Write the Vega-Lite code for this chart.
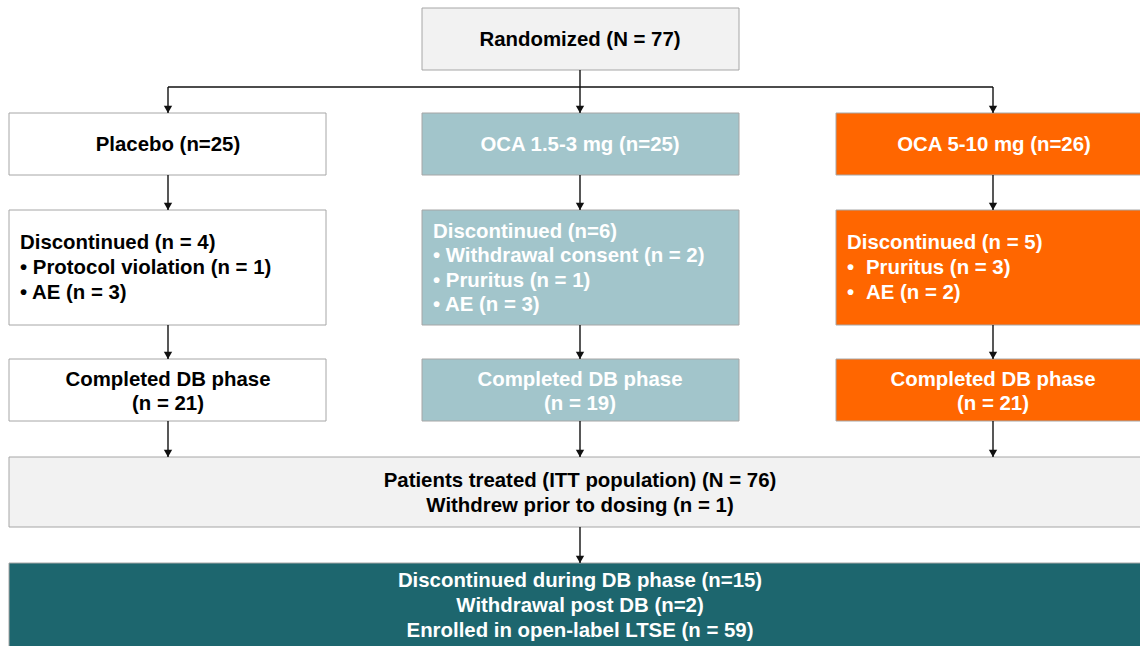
{
  "$schema": "https://vega.github.io/schema/vega-lite/v6.json",
  "width": 1140,
  "height": 646,
  "autosize": {"type": "fit", "contains": "padding"},
  "padding": 0,
  "background": "#ffffff",
  "config": {"view": {"stroke": null}},
  "datasets": {
    "boxes": [
      {"id": "randomized", "x": 422, "x2": 739, "y": 8, "y2": 70, "kind": "grey"},
      {"id": "placebo", "x": 9, "x2": 326, "y": 113, "y2": 175, "kind": "white"},
      {"id": "oca1", "x": 422, "x2": 739, "y": 113, "y2": 175, "kind": "teal"},
      {"id": "oca5", "x": 836, "x2": 1150, "y": 113, "y2": 175, "kind": "orange"},
      {"id": "disc_pl", "x": 9, "x2": 326, "y": 210, "y2": 325, "kind": "white"},
      {"id": "disc_oca1", "x": 422, "x2": 739, "y": 210, "y2": 325, "kind": "teal"},
      {"id": "disc_oca5", "x": 836, "x2": 1150, "y": 210, "y2": 325, "kind": "orange"},
      {"id": "comp_pl", "x": 9, "x2": 326, "y": 359, "y2": 421, "kind": "white"},
      {"id": "comp_oca1", "x": 422, "x2": 739, "y": 359, "y2": 421, "kind": "teal"},
      {"id": "comp_oca5", "x": 836, "x2": 1150, "y": 359, "y2": 421, "kind": "orange"},
      {"id": "treated", "x": 9, "x2": 1150, "y": 457, "y2": 527, "kind": "grey"},
      {"id": "final", "x": 9, "x2": 1150, "y": 563, "y2": 660, "kind": "dark"}
    ],
    "arrows": [
      {"x": 580, "y": 70, "x2": 580, "y2": 87, "head": false},
      {"x": 168, "y": 87, "x2": 993, "y2": 87, "head": false},
      {"x": 168, "y": 87, "x2": 168, "y2": 113, "head": true},
      {"x": 580, "y": 87, "x2": 580, "y2": 113, "head": true},
      {"x": 993, "y": 87, "x2": 993, "y2": 113, "head": true},
      {"x": 168, "y": 175, "x2": 168, "y2": 210, "head": true},
      {"x": 580, "y": 175, "x2": 580, "y2": 210, "head": true},
      {"x": 993, "y": 175, "x2": 993, "y2": 210, "head": true},
      {"x": 168, "y": 325, "x2": 168, "y2": 359, "head": true},
      {"x": 580, "y": 325, "x2": 580, "y2": 359, "head": true},
      {"x": 993, "y": 325, "x2": 993, "y2": 359, "head": true},
      {"x": 168, "y": 421, "x2": 168, "y2": 457, "head": true},
      {"x": 580, "y": 421, "x2": 580, "y2": 457, "head": true},
      {"x": 993, "y": 421, "x2": 993, "y2": 457, "head": true},
      {"x": 580, "y": 527, "x2": 580, "y2": 563, "head": true}
    ],
    "labels": [
      {"x": 580, "y": 39, "text": "Randomized (N = 77)", "tone": "dark", "anchor": "center"},
      {"x": 168, "y": 144, "text": "Placebo (n=25)", "tone": "dark", "anchor": "center"},
      {"x": 580, "y": 144, "text": "OCA 1.5-3 mg (n=25)", "tone": "light", "anchor": "center"},
      {"x": 994, "y": 144, "text": "OCA 5-10 mg (n=26)", "tone": "light", "anchor": "center"},
      {"x": 20, "y": 242, "text": "Discontinued (n = 4)", "tone": "dark", "anchor": "left"},
      {"x": 20, "y": 267, "text": "• Protocol violation (n = 1)", "tone": "dark", "anchor": "left"},
      {"x": 20, "y": 292, "text": "• AE (n = 3)", "tone": "dark", "anchor": "left"},
      {"x": 433, "y": 231, "text": "Discontinued (n=6)", "tone": "light", "anchor": "left"},
      {"x": 433, "y": 255, "text": "• Withdrawal consent (n = 2)", "tone": "light", "anchor": "left"},
      {"x": 433, "y": 280, "text": "• Pruritus (n = 1)", "tone": "light", "anchor": "left"},
      {"x": 433, "y": 304, "text": "• AE (n = 3)", "tone": "light", "anchor": "left"},
      {"x": 847, "y": 242, "text": "Discontinued (n = 5)", "tone": "light", "anchor": "left"},
      {"x": 847, "y": 267, "text": "•", "tone": "light", "anchor": "left"},
      {"x": 866, "y": 267, "text": "Pruritus (n = 3)", "tone": "light", "anchor": "left"},
      {"x": 847, "y": 292, "text": "•", "tone": "light", "anchor": "left"},
      {"x": 866, "y": 292, "text": "AE (n = 2)", "tone": "light", "anchor": "left"},
      {"x": 168, "y": 379, "text": "Completed DB phase", "tone": "dark", "anchor": "center"},
      {"x": 168, "y": 403, "text": "(n = 21)", "tone": "dark", "anchor": "center"},
      {"x": 580, "y": 379, "text": "Completed DB phase", "tone": "light", "anchor": "center"},
      {"x": 580, "y": 403, "text": "(n = 19)", "tone": "light", "anchor": "center"},
      {"x": 993, "y": 379, "text": "Completed DB phase", "tone": "light", "anchor": "center"},
      {"x": 993, "y": 403, "text": "(n = 21)", "tone": "light", "anchor": "center"},
      {"x": 580, "y": 480, "text": "Patients treated (ITT population) (N = 76)", "tone": "dark", "anchor": "center"},
      {"x": 580, "y": 505, "text": "Withdrew prior to dosing (n = 1)", "tone": "dark", "anchor": "center"},
      {"x": 580, "y": 580, "text": "Discontinued during DB phase (n=15)", "tone": "light", "anchor": "center"},
      {"x": 580, "y": 605, "text": "Withdrawal post DB (n=2)", "tone": "light", "anchor": "center"},
      {"x": 580, "y": 630, "text": "Enrolled in open-label LTSE (n = 59)", "tone": "light", "anchor": "center"}
    ]
  },
  "layer": [
    {
      "data": {"name": "boxes"},
      "mark": {"type": "rect", "stroke": "#a6a6a6", "strokeWidth": 1, "clip": true},
      "encoding": {
        "x": {"field": "x", "type": "quantitative", "axis": null, "scale": {"domain": [0, 1140], "nice": false, "zero": false}},
        "x2": {"field": "x2"},
        "y": {"field": "y", "type": "quantitative", "axis": null, "scale": {"domain": [0, 646], "nice": false, "zero": false, "reverse": true}},
        "y2": {"field": "y2"},
        "fill": {"field": "kind", "type": "nominal", "legend": null,
          "scale": {"domain": ["grey", "white", "teal", "orange", "dark"], "range": ["#f2f2f2", "#ffffff", "#a2c5cb", "#ff6600", "#1d666e"]}}
      }
    },
    {
      "data": {"name": "arrows"},
      "mark": {"type": "rule", "color": "#111111", "strokeWidth": 1.4},
      "encoding": {
        "x": {"field": "x", "type": "quantitative"},
        "x2": {"field": "x2"},
        "y": {"field": "y", "type": "quantitative"},
        "y2": {"field": "y2"}
      }
    },
    {
      "data": {"name": "arrows"},
      "transform": [{"filter": "datum.head"}],
      "mark": {"type": "point", "shape": "triangle-down", "filled": true, "size": 70, "color": "#111111", "opacity": 1, "yOffset": -3.6},
      "encoding": {
        "x": {"field": "x2", "type": "quantitative"},
        "y": {"field": "y2", "type": "quantitative"}
      }
    },
    {
      "data": {"name": "labels"},
      "transform": [{"filter": "datum.anchor === 'center'"}],
      "mark": {"type": "text", "align": "center", "baseline": "middle", "dy": 1, "font": "Liberation Sans", "fontWeight": "bold", "fontSize": 20.4},
      "encoding": {
        "x": {"field": "x", "type": "quantitative"},
        "y": {"field": "y", "type": "quantitative"},
        "text": {"field": "text"},
        "color": {"field": "tone", "type": "nominal", "legend": null, "scale": {"domain": ["dark", "light"], "range": ["#000000", "#ffffff"]}}
      }
    },
    {
      "data": {"name": "labels"},
      "transform": [{"filter": "datum.anchor === 'left'"}],
      "mark": {"type": "text", "align": "left", "baseline": "middle", "dy": 1, "font": "Liberation Sans", "fontWeight": "bold", "fontSize": 20.4},
      "encoding": {
        "x": {"field": "x", "type": "quantitative"},
        "y": {"field": "y", "type": "quantitative"},
        "text": {"field": "text"},
        "color": {"field": "tone", "type": "nominal", "legend": null, "scale": {"domain": ["dark", "light"], "range": ["#000000", "#ffffff"]}}
      }
    }
  ]
}
